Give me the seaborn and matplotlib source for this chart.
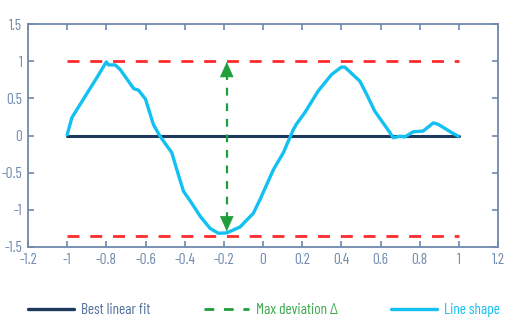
import numpy as np
import pandas as pd
import matplotlib
matplotlib.use("Agg")
import matplotlib.pyplot as plt
import seaborn as sns
from matplotlib.lines import Line2D
from matplotlib.ticker import FuncFormatter

# ---- data ----
shape_x = [-1.0, -0.976, -0.917, -0.848, -0.80, -0.789, -0.755, -0.73, -0.66, -0.636,
           -0.60, -0.56, -0.526, -0.466, -0.44, -0.406, -0.364, -0.32, -0.27, -0.228,
           -0.185, -0.117, -0.049, -0.015, 0.053, 0.104, 0.155, 0.17, 0.214, 0.282,
           0.35, 0.40, 0.418, 0.495, 0.53, 0.57, 0.648, 0.665, 0.70, 0.724,
           0.767, 0.818, 0.87, 0.895, 0.963, 0.997]
shape_y = [0.01, 0.24, 0.49, 0.78, 0.99, 0.95, 0.95, 0.89, 0.63, 0.61,
           0.49, 0.15, -0.01, -0.23, -0.46, -0.75, -0.91, -1.09, -1.25, -1.315,
           -1.31, -1.23, -1.045, -0.86, -0.46, -0.23, 0.08, 0.15, 0.31, 0.60,
           0.82, 0.92, 0.92, 0.73, 0.55, 0.33, 0.04, -0.03, -0.01, -0.02,
           0.05, 0.06, 0.17, 0.15, 0.04, -0.01]
fit_x = [-1.0, 1.0]
fit_y = [0.0, 0.0]
upper_bound = 1.0
lower_bound = -1.35
arrow_x = -0.185
arrow_top = 0.99
arrow_bottom = -1.29
x_ticks = [-1.2, -1.0, -0.8, -0.6, -0.4, -0.2, 0.0, 0.2, 0.4, 0.6, 0.8, 1.0, 1.2]
y_ticks = [-1.5, -1.0, -0.5, 0.0, 0.5, 1.0, 1.5]
legend_labels = ["Best linear fit", "Max deviation \u0394", "Line shape"]

# ---- style ----
sns.set_theme(style="white")
plt.rcParams['font.family'] = ['Barlow Condensed', 'Saira ExtraCondensed', 'Roboto Condensed', 'DejaVu Sans']

navy = "#1d3a5c"
cyan = "#12c0f2"
red = "#ff2a2a"
green = "#1f9e3c"
green_txt = "#3aaa4c"
axis_col = "#6f89ad"

fig = plt.figure(figsize=(5.19, 3.36), dpi=100)
ax = fig.add_axes([28/519, 1-247/336, (498-28)/519, (247-24)/336])

shape_df = pd.DataFrame({"x": shape_x, "y": shape_y})
fit_df = pd.DataFrame({"x": fit_x, "y": fit_y})

# red bounds
for yb in (upper_bound, lower_bound):
    ax.plot([-1, 1], [yb, yb], color=red, lw=2.0, dashes=(4.3, 3.9), zorder=2)

sns.lineplot(data=fit_df, x="x", y="y", ax=ax, color=navy, lw=2.2, zorder=3)
sns.lineplot(data=shape_df, x="x", y="y", ax=ax, color=cyan, lw=2.4, sort=False,
             estimator=None, zorder=4)

# green arrow
ax.plot([arrow_x, arrow_x], [arrow_bottom + 0.15, arrow_top - 0.15], color=green,
        lw=1.6, dashes=(3.5, 3.5), zorder=5)
for tip, base in ((arrow_top, arrow_top - 0.2), (arrow_bottom, arrow_bottom + 0.2)):
    ax.annotate("", xy=(arrow_x, tip), xytext=(arrow_x, base),
                arrowprops=dict(arrowstyle="-|>,head_length=0.85,head_width=0.38",
                                color=green, lw=0.5, shrinkA=0, shrinkB=0), zorder=6)

ax.set_xlim(-1.2, 1.2)
ax.set_ylim(-1.5, 1.5)
ax.set_xticks(x_ticks)
ax.set_yticks(y_ticks)
fmt = FuncFormatter(lambda v, p: f"{v:g}" if abs(v) > 1e-9 else "0")
ax.xaxis.set_major_formatter(fmt)
ax.yaxis.set_major_formatter(fmt)
ax.set_xlabel("")
ax.set_ylabel("")
ax.tick_params(direction="in", length=4, width=1.2, color=axis_col, labelcolor=axis_col,
               labelsize=11, top=True, right=True, bottom=True, left=True, pad=4)
for s in ax.spines.values():
    s.set_color(axis_col)
    s.set_linewidth(1.3)
    s.set_visible(True)

handles = [Line2D([], [], color=navy, lw=2.4),
           Line2D([], [], color=green, lw=2.0, dashes=(3.5, 3.5)),
           Line2D([], [], color=cyan, lw=2.4)]
leg = fig.legend(handles, legend_labels, loc="center", ncol=3, mode="expand",
                 bbox_to_anchor=(28/519, 1-318/336, (500-28)/519, 16/336),
                 frameon=False, fontsize=11, handlelength=3.0, handletextpad=0.45,
                 borderpad=0, borderaxespad=0)
for t, c in zip(leg.get_texts(), ["#50709a", green_txt, cyan]):
    t.set_color(c)

fig.savefig("out.png", dpi=100)
